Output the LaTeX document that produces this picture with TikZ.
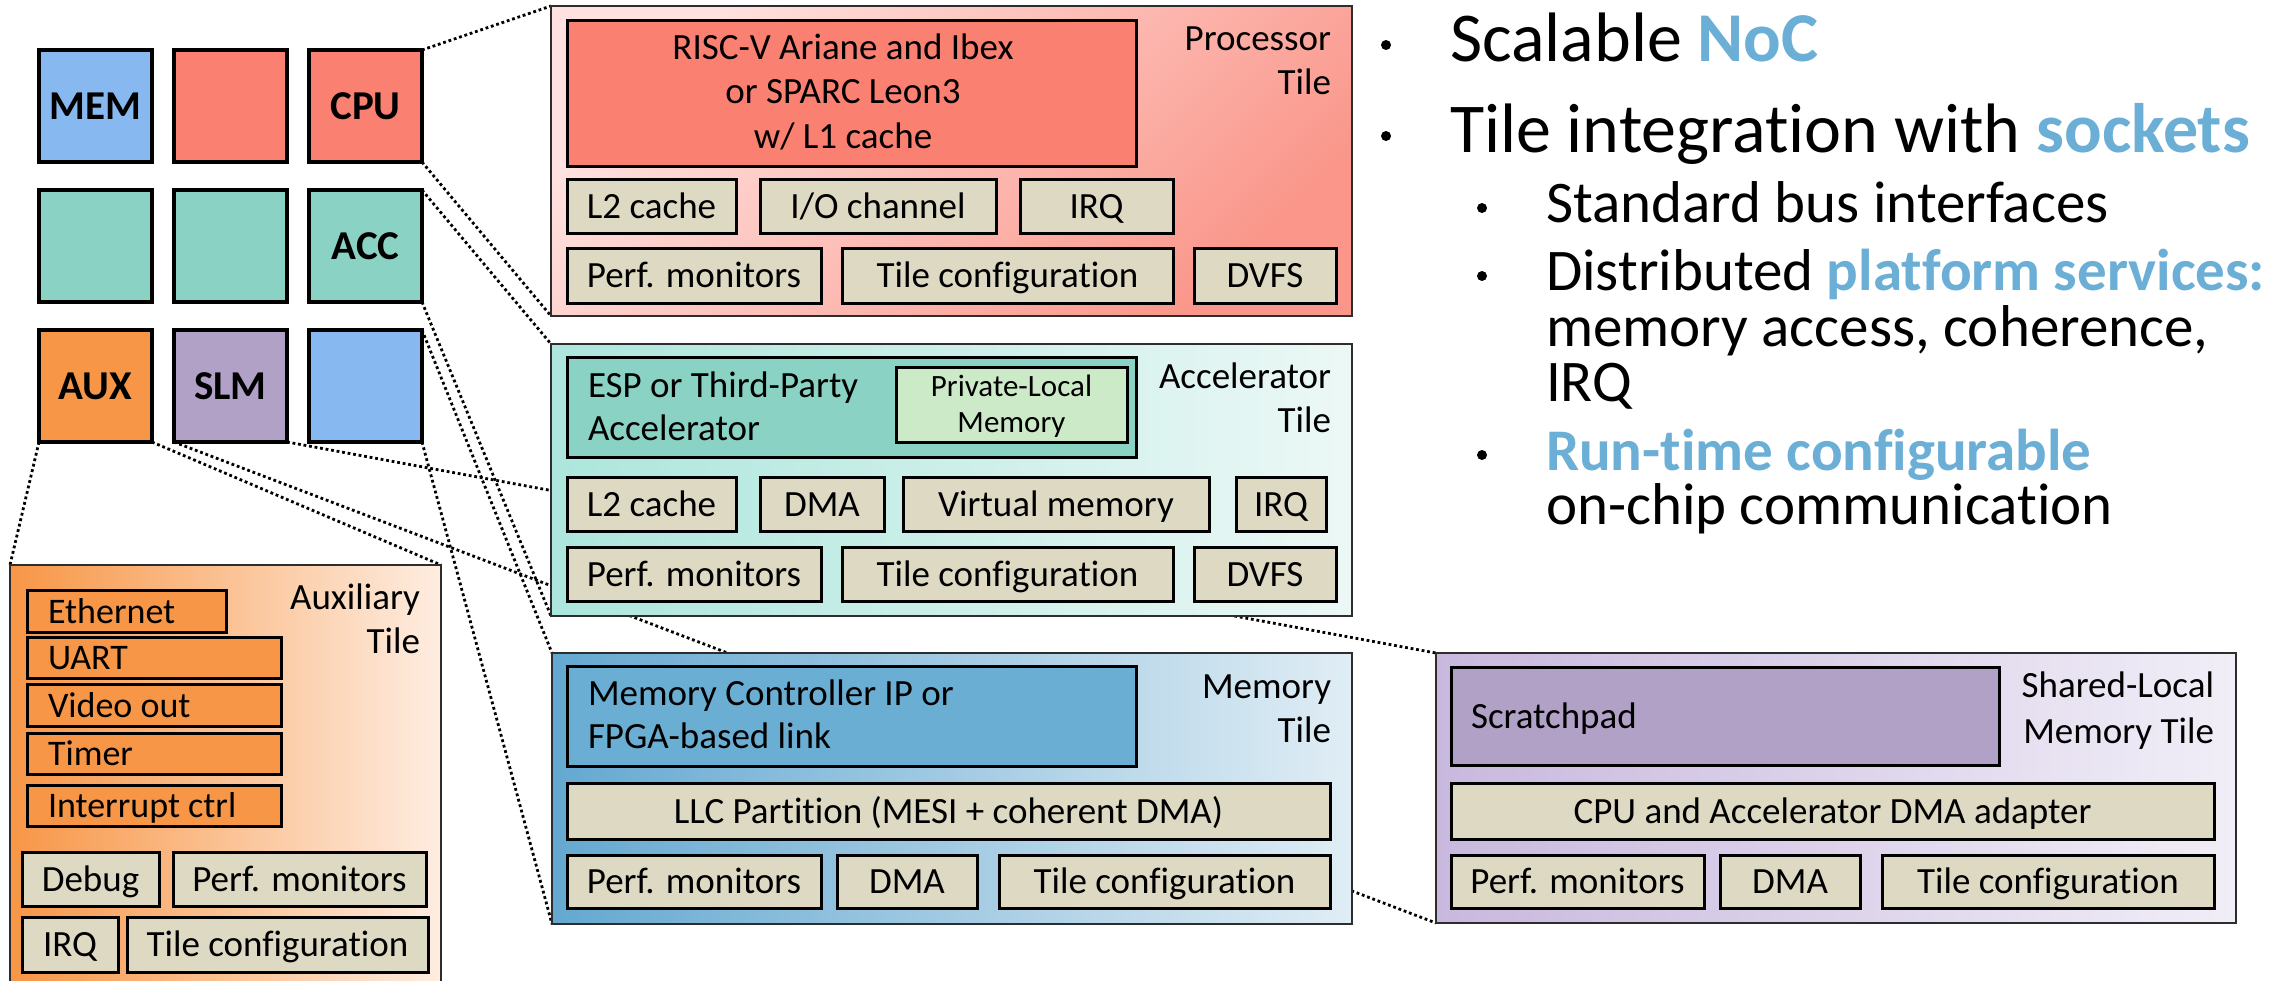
\documentclass[tikz,border=0pt]{standalone}
\usepackage{fontspec}
\setmainfont{Carlito}[Ligatures=NoCommon]
\usetikzlibrary{calc}

\definecolor{grayfill}{RGB}{221,217,195}
\definecolor{cpured}{RGB}{250,128,114}
\definecolor{accteal}{RGB}{138,210,196}
\definecolor{memblue}{RGB}{135,185,240}
\definecolor{memdark}{RGB}{106,174,212}
\definecolor{slmpurple}{RGB}{177,161,199}
\definecolor{auxorange}{RGB}{247,150,70}
\definecolor{plmgreen}{RGB}{204,234,200}
\definecolor{hlblue}{RGB}{107,174,214}
\definecolor{procA}{RGB}{255,226,224}
\definecolor{procB}{RGB}{250,150,138}
\definecolor{accA}{RGB}{172,230,220}
\definecolor{accB}{RGB}{236,248,246}
\definecolor{memA}{RGB}{100,168,208}
\definecolor{memM}{RGB}{165,205,228}
\definecolor{memB}{RGB}{224,237,245}
\definecolor{slmA}{RGB}{200,184,222}
\definecolor{slmB}{RGB}{241,238,247}
\definecolor{auxM}{RGB}{250,210,178}
\definecolor{auxB}{RGB}{254,237,225}
\definecolor{framegray}{RGB}{45,45,45}

\newcommand\fs[1]{\fontsize{#1}{#1}\selectfont}
\newcommand\hl[1]{{\bfseries\color{hlblue}#1}}
% \placebox{style}{name}{x1}{y1}{x2}{y2}{text}
\newcommand\placebox[7]{\node[#1,minimum width={#5-#3},minimum height={#6-#4}] (#2) at ({(#3+#5)/2},{(#4+#6)/2}) {#7};}

\pgfdeclarelayer{paper}
\pgfdeclarelayer{links}
\pgfsetlayers{paper,links,main}

\tikzset{
  tile/.style={draw=framegray, line width=2.5pt, inner sep=0pt, outer sep=0pt},
  gbox/.style={draw=black, line width=3pt, fill=grayfill, inner sep=0pt, outer sep=0pt,
    font=\fs{37}, text height=24pt, text depth=0pt},
  cbox/.style={draw=black, line width=3pt, inner sep=0pt, outer sep=0pt},
  cell/.style={draw=black, line width=3.5pt, inner sep=0pt, outer sep=0pt,
    minimum width=113pt, minimum height=112pt, font=\bfseries\fs{41}, text height=26pt, text depth=0pt},
  txt/.style={inner sep=0pt, outer sep=0pt, font=\fs{37}},
  ptxt/.style={inner sep=0pt, outer sep=0pt, font=\fs{31}, anchor=base},
  link/.style={line width=2.8pt, dash pattern=on 2.8pt off 2.8pt},
  bdot/.style={circle, fill=black, inner sep=0pt, minimum size=10pt},
  btop/.style={inner sep=0pt, outer sep=0pt, anchor=base west, font=\fs{70}},
  bsub/.style={inner sep=0pt, outer sep=0pt, anchor=base west, font=\fs{59}},
}

\begin{document}
\begin{tikzpicture}[x=1pt,y=-1pt]
\useasboundingbox (0,0) rectangle (2269,980);
\begin{pgfonlayer}{paper}
\fill[white] (0,0) rectangle (2269,980);
\end{pgfonlayer}
\clip (0,0) rectangle (2269,980);

% ---------- tile grid ----------
\node[cell, fill=memblue]   (mem)  at (95.5,106) {MEM};
\node[cell, fill=cpured]    (cpu2) at (230.5,106) {};
\node[cell, fill=cpured]    (cpu)  at (365.5,106) {CPU};
\node[cell, fill=accteal]   (acc1) at (95.5,246) {};
\node[cell, fill=accteal]   (acc2) at (230.5,246) {};
\node[cell, fill=accteal]   (acc)  at (365.5,246) {ACC};
\node[cell, fill=auxorange] (aux)  at (95.5,386) {AUX};
\node[cell, fill=slmpurple] (slm)  at (230.5,386) {SLM};
\node[cell, fill=memblue]   (mem2) at (365.5,386) {};

% ---------- processor tile ----------
\placebox{tile, top color=procA, bottom color=procB, shading angle=45}{ptile}{551}{6}{1352}{316}{}
\placebox{cbox, fill=cpured}{pcore}{567}{20}{1136}{166}{}
\node[txt, anchor=base] (pc1) at (843,59) {RISC-V Ariane and Ibex};
\node[txt, anchor=base] (pc2) at (843,103.5) {or SPARC Leon3};
\node[txt, anchor=base] (pc3) at (843,148) {w/ L1 cache};
\node[txt, anchor=base east] (pl1) at (1331,50) {Processor};
\node[txt, anchor=base east] (pl2) at (1331,94) {Tile};
\placebox{gbox}{pl2c}{567}{179}{736}{233}{L2 cache}
\placebox{gbox}{pio}{760}{179}{996}{233}{I/O channel}
\placebox{gbox}{pirq}{1020}{179}{1173}{233}{IRQ}
\placebox{gbox}{pperf}{567}{248}{821}{303}{Perf. monitors}
\placebox{gbox}{pcfg}{842}{248}{1173}{303}{Tile configuration}
\placebox{gbox}{pdvfs}{1194}{248}{1336}{303}{DVFS}

% ---------- accelerator tile ----------
\placebox{tile, left color=accA, right color=accB}{atile}{551}{344}{1352}{616}{}
\placebox{cbox, fill=accteal}{acore}{567}{357}{1136}{457}{}
\node[txt, anchor=base west] (ac1) at (588,397) {ESP or Third-Party};
\node[txt, anchor=base west] (ac2) at (588,440) {Accelerator};
\placebox{cbox, fill=plmgreen}{aplm}{896}{367}{1127}{442}{}
\node[ptxt] (apl1) at (1011.5,396) {Private-Local};
\node[ptxt] (apl2) at (1011.5,432) {Memory};
\node[txt, anchor=base east] (al1) at (1331,388) {Accelerator};
\node[txt, anchor=base east] (al2) at (1331,432) {Tile};
\placebox{gbox}{al2c}{567}{477}{736}{531}{L2 cache}
\placebox{gbox}{adma}{760}{477}{884}{531}{DMA}
\placebox{gbox}{avm}{903}{477}{1209}{531}{Virtual memory}
\placebox{gbox}{airq}{1236}{477}{1326}{531}{IRQ}
\placebox{gbox}{aperf}{567}{547}{821}{601}{Perf. monitors}
\placebox{gbox}{acfg}{842}{547}{1173}{601}{Tile configuration}
\placebox{gbox}{advfs}{1194}{547}{1336}{601}{DVFS}

% ---------- memory tile ----------
\placebox{tile, left color=memA, middle color=memM, right color=memB}{mtile}{552}{653}{1352}{924}{}
\placebox{cbox, fill=memdark}{mcore}{567}{666}{1136}{766}{}
\node[txt, anchor=base west] (mc1) at (588,705) {Memory Controller IP or};
\node[txt, anchor=base west] (mc2) at (588,748) {FPGA-based link};
\node[txt, anchor=base east] (ml1) at (1331,698) {Memory};
\node[txt, anchor=base east] (ml2) at (1331,742) {Tile};
\placebox{gbox}{mllc}{567}{783}{1330}{839}{LLC Partition (MESI + coherent DMA)}
\placebox{gbox}{mperf}{567}{855}{821}{908}{Perf. monitors}
\placebox{gbox}{mdma}{837}{855}{977}{908}{DMA}
\placebox{gbox}{mcfg}{999}{855}{1330}{908}{Tile configuration}

% ---------- shared-local memory tile ----------
\placebox{tile, left color=slmA, right color=slmB}{stile}{1436}{653}{2236}{923}{}
\placebox{cbox, fill=slmpurple}{sscr}{1451}{667}{1999}{765}{}
\node[txt, anchor=base west] (sc1) at (1471,728) {Scratchpad};
\node[txt, anchor=base east] (sl1) at (2214,697) {Shared-Local};
\node[txt, anchor=base east] (sl2) at (2214,743) {Memory Tile};
\placebox{gbox}{sdad}{1451}{783}{2214}{839}{CPU and Accelerator DMA adapter}
\placebox{gbox}{sperf}{1451}{855}{1704}{908}{Perf. monitors}
\placebox{gbox}{sdma}{1720}{855}{1860}{908}{DMA}
\placebox{gbox}{scfg}{1882}{855}{2214}{908}{Tile configuration}

% ---------- auxiliary tile ----------
\placebox{tile, left color=auxorange, middle color=auxM, right color=auxB}{xtile}{10}{565}{441}{1000}{}
\placebox{cbox, fill=auxorange}{xeth}{27}{590}{226}{632}{}
\placebox{cbox, fill=auxorange}{xuart}{27}{637}{281}{678}{}
\placebox{cbox, fill=auxorange}{xvid}{27}{684}{281}{726}{}
\placebox{cbox, fill=auxorange}{xtim}{27}{733}{281}{774}{}
\placebox{cbox, fill=auxorange}{xint}{27}{785}{281}{826}{}
\node[txt, font=\fs{36}, anchor=base west] (xt1) at (48,623) {Ethernet};
\node[txt, font=\fs{36}, anchor=base west] (xt2) at (48,669.5) {UART};
\node[txt, font=\fs{36}, anchor=base west] (xt3) at (48,717) {Video out};
\node[txt, font=\fs{36}, anchor=base west] (xt4) at (48,765.5) {Timer};
\node[txt, font=\fs{36}, anchor=base west] (xt5) at (48,817.5) {Interrupt ctrl};
\node[txt, anchor=base east] (xl1) at (420,609) {Auxiliary};
\node[txt, anchor=base east] (xl2) at (420,653) {Tile};
\placebox{gbox}{xdbg}{22}{852}{159}{906}{Debug}
\placebox{gbox}{xperf}{173}{852}{426}{906}{Perf. monitors}
\placebox{gbox}{xirq}{22}{917}{118}{972}{IRQ}
\placebox{gbox}{xcfg}{127}{917}{428}{972}{Tile configuration}

% ---------- dotted zoom lines, kept behind the tiles ----------
\begin{pgfonlayer}{links}
\draw[link] (cpu.north east) -- (ptile.north west);
\draw[link] (cpu.south east) -- (ptile.south west);
\draw[link] (acc.north east) -- (atile.north west);
\draw[link] (acc.south east) -- (atile.south west);
\draw[link] (mem2.north east) -- (mtile.north west);
\draw[link] (mem2.south east) -- (mtile.south west);
\draw[link] (slm.south east) -- (stile.north west);
\draw[link] (slm.south west) -- (stile.south west);
\draw[link] (aux.south west) -- (xtile.north west);
\draw[link] (aux.south east) -- (xtile.north east);
\end{pgfonlayer}

% ---------- bullet list ----------
\node[bdot] (d1) at (1386,45) {};
\node[btop] (t1) at (1450,61) {Scalable \hl{NoC}};
\node[bdot] (d2) at (1386,136) {};
\node[btop] (t2) at (1450,152) {Tile integration with \hl{sockets}};
\node[bdot] (d3) at (1482,208) {};
\node[bsub] (t3) at (1546,222) {Standard bus interfaces};
\node[bdot] (d4) at (1482,276) {};
\node[bsub] (t4) at (1546,290) {Distributed \hl{platform services:}};
\node[bsub] (t5) at (1546,346) {memory access, coherence,};
\node[bsub] (t6) at (1546,401) {IRQ};
\node[bdot] (d5) at (1482,455) {};
\node[bsub] (t7) at (1546,470) {\hl{Run-time configurable}};
\node[bsub] (t8) at (1546,524) {on-chip communication};
\end{tikzpicture}
\end{document}
